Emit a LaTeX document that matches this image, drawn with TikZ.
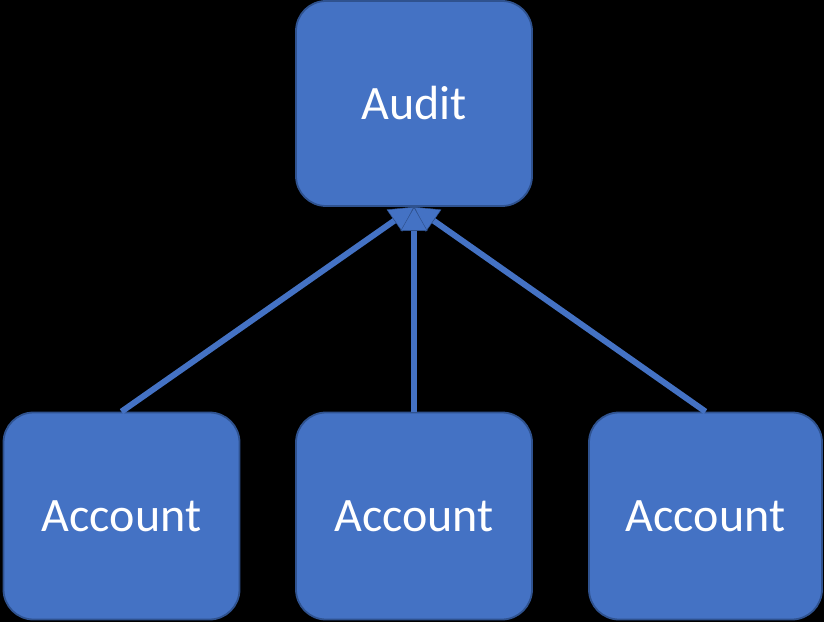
\documentclass[tikz,border=0pt]{standalone}
\usepackage{fontspec}
\setmainfont{Carlito}
\usetikzlibrary{arrows.meta}
\definecolor{boxfill}{HTML}{4472C4}
\definecolor{boxline}{HTML}{2F528F}
\tikzset{
  block/.style={draw=boxline, line width=1.8pt, fill=boxfill, rounded corners=30pt,
    minimum width=236pt, minimum height=207pt, inner sep=0pt, text=white,
    font=\fontsize{48pt}{56pt}\selectfont},
  link/.style={draw=boxfill, line width=6pt,
    -{Triangle[width=27pt, length=24pt, line width=0.5pt, color=boxline, fill=boxfill]}}
}
\begin{document}
\begin{tikzpicture}[x=1pt, y=1pt]
  \fill[black] (0,0) rectangle (824,622);
  \useasboundingbox (0,0) rectangle (824,622);
  \node[block, minimum height=205pt] (audit) at (414,518.5) {Audit};
  \node[block] (acc1) at (121.5,106) {Account};
  \node[block] (acc2) at (414,106) {Account};
  \node[block, minimum width=233pt] (acc3) at (705.5,106) {Account};
  \draw[link] (acc1.north) -- (audit.south);
  \draw[link] (acc3.north) -- (audit.south);
  \draw[link] (acc2.north) -- (audit.south);
\end{tikzpicture}
\end{document}
